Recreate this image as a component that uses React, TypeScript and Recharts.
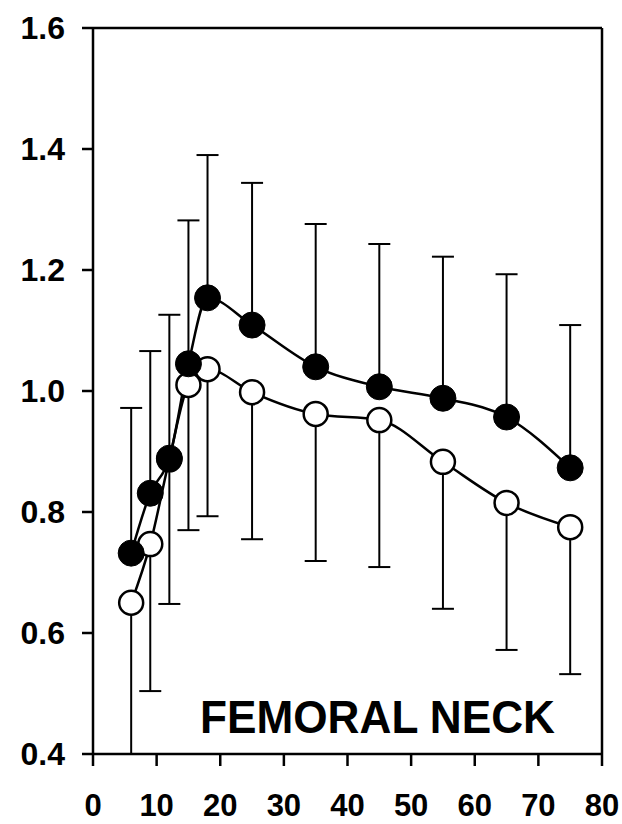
import {
  LineChart,
  Line,
  XAxis,
  YAxis,
  ErrorBar,
  ReferenceLine,
} from "recharts";

const ages = [6, 9, 12, 15, 18, 25, 35, 45, 55, 65, 75];
const filledMean = [0.732, 0.831, 0.889, 1.045, 1.154, 1.109, 1.04, 1.007, 0.988, 0.957, 0.873];
const filledUpper = [0.972, 1.066, 1.126, 1.282, 1.39, 1.344, 1.276, 1.243, 1.222, 1.193, 1.109];
const openMean = [0.65, 0.747, 0.887, 1.01, 1.036, 0.998, 0.962, 0.952, 0.883, 0.815, 0.775];
const openLower = [0.4, 0.504, 0.648, 0.77, 0.793, 0.755, 0.719, 0.709, 0.64, 0.572, 0.532];
const xTicks = [0, 10, 20, 30, 40, 50, 60, 70, 80];
const yTicks = [0.4, 0.6, 0.8, 1.0, 1.2, 1.4, 1.6];

const data = ages.map((age, i) => ({
  age,
  filled: filledMean[i],
  filledErr: [0, filledUpper[i] - filledMean[i]],
  open: openMean[i],
  openErr: [openMean[i] - openLower[i], 0],
}));

const font = "'Liberation Sans', Arial, sans-serif";

function XTick(props: any) {
  const { x, y, payload } = props;
  return (
    <text x={x} y={y} dy="0.71em" textAnchor="middle" fontFamily={font} fontSize={31} fontWeight={700} fill="#000">
      {payload.value}
    </text>
  );
}

function YTick(props: any) {
  const { x, y, payload } = props;
  return (
    <text x={x} y={y} dy="0.355em" textAnchor="end" fontFamily={font} fontSize={32} fontWeight={700} fill="#000">
      {Number(payload.value).toFixed(1)}
    </text>
  );
}

export default function App() {
  return (
    <div style={{ position: "absolute", left: 0, top: 0, width: 622, height: 824, background: "#fff" }}>
      <LineChart
        width={622}
        height={824}
        data={data}
        margin={{ top: 28, right: 20, left: 0, bottom: 0 }}
      >
        <XAxis
          dataKey="age"
          type="number"
          domain={[0, 80]}
          ticks={xTicks}
          interval={0}
          height={70}
          tickSize={12}
          tickMargin={28}
          axisLine={{ stroke: "#000", strokeWidth: 2.5 }}
          tickLine={{ stroke: "#000", strokeWidth: 2.5 }}
          tick={<XTick />}
        />
        <YAxis
          type="number"
          domain={[0.4, 1.6]}
          ticks={yTicks}
          interval={0}
          width={93}
          tickSize={11}
          tickMargin={17}
          axisLine={{ stroke: "#000", strokeWidth: 2.5 }}
          tickLine={{ stroke: "#000", strokeWidth: 2.5 }}
          tick={<YTick />}
        />
        <ReferenceLine y={1.6} stroke="#000" strokeWidth={2.5} />
        <ReferenceLine x={80} stroke="#000" strokeWidth={2.5} />
        <Line
          dataKey="open"
          type="monotone"
          stroke="#000"
          strokeWidth={2.5}
          dot={{ r: 12, fill: "#fff", stroke: "#000", strokeWidth: 2.5 }}
          isAnimationActive={false}
        >
          <ErrorBar dataKey="openErr" direction="y" width={11} stroke="#000" strokeWidth={2} />
        </Line>
        <Line
          dataKey="filled"
          type="monotone"
          stroke="#000"
          strokeWidth={2.5}
          dot={{ r: 13, fill: "#000", stroke: "#000", strokeWidth: 1 }}
          isAnimationActive={false}
        >
          <ErrorBar dataKey="filledErr" direction="y" width={11} stroke="#000" strokeWidth={2} />
        </Line>
      </LineChart>
      <svg width={622} height={824} style={{ position: "absolute", left: 0, top: 0, pointerEvents: "none" }}>
        <text
          x={200}
          y={733}
          fontFamily={font}
          fontSize={46}
          fontWeight={700}
          textLength={355}
          lengthAdjust="spacingAndGlyphs"
          fill="#000"
        >
          FEMORAL NECK
        </text>
      </svg>
    </div>
  );
}
